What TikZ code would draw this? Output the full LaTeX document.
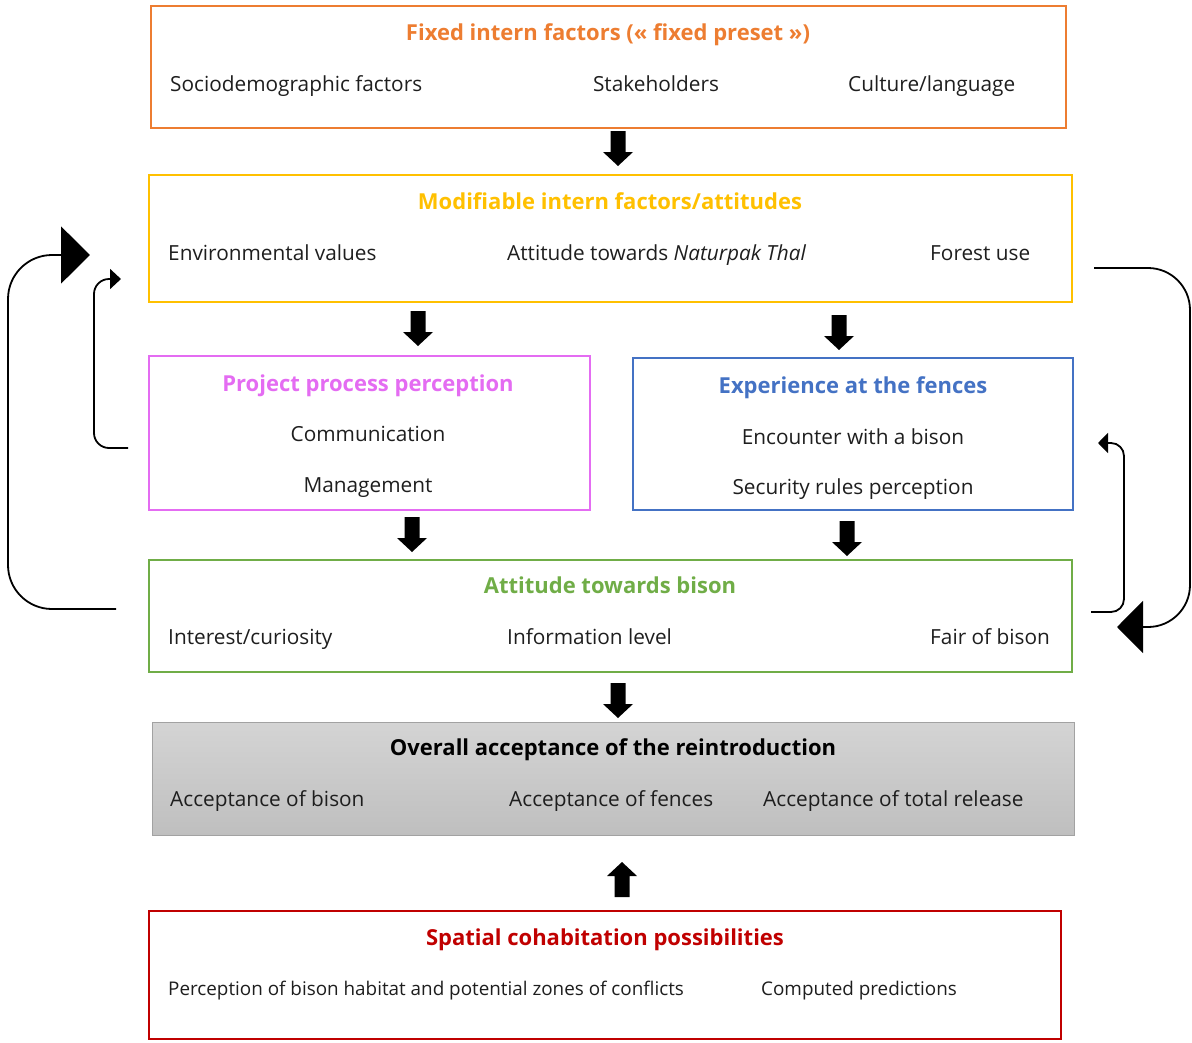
\documentclass[tikz,border=0pt]{standalone}
\usepackage{fontspec}
\setmainfont{Open Sans}
\usetikzlibrary{arrows.meta}

\definecolor{cOrange}{HTML}{ED7D31}
\definecolor{cYellow}{HTML}{FFC000}
\definecolor{cPink}{HTML}{E46CF2}
\definecolor{cBlue}{HTML}{4472C4}
\definecolor{cGreen}{HTML}{70AD47}
\definecolor{cRed}{HTML}{C00000}
\definecolor{cText}{HTML}{1E1E1E}
\definecolor{cGrayTop}{HTML}{D4D4D4}
\definecolor{cGrayBot}{HTML}{BFBFBF}

\tikzset{
  box/.style={rectangle, line width=1.8pt, inner sep=0pt},
  txt/.style={inner sep=0pt, text height=14.8pt, text depth=0pt,
    font=\fontsize{20.8}{24}\selectfont, text=cText},
  small/.style={txt, font=\fontsize{18.85}{22}\selectfont},
  ttl/.style={txt, font=\fontsize{22}{26}\selectfont\bfseries},
  loopline/.style={line width=1.8pt, rounded corners=#1},
  pics/blockdown/.style={code={
    \fill[black] (-7.5,0) -- (7.5,0) -- (7.5,21) -- (15,21) -- (0,35)
      -- (-15,21) -- (-7.5,21) -- cycle;}},
  pics/blockup/.style={code={
    \fill[black] (-7.5,35) -- (7.5,35) -- (7.5,14) -- (15,14) -- (0,0)
      -- (-15,14) -- (-7.5,14) -- cycle;}}
}

\begin{document}
\begin{tikzpicture}[x=1pt, y=-1pt]
\useasboundingbox (0,0) rectangle (1192,1042);

% frames
\node[box, draw=cOrange, minimum width=915pt, minimum height=122pt] (fixed) at (608.5,67) {};
\node[box, draw=cYellow, minimum width=923pt, minimum height=127pt] (modif) at (610.5,238.5) {};
\node[box, draw=cPink, minimum width=441pt, minimum height=154pt] (proc) at (369.5,433) {};
\node[box, draw=cBlue, minimum width=440pt, minimum height=152pt] (exper) at (853,434) {};
\node[box, draw=cGreen, minimum width=923pt, minimum height=112pt] (att) at (610.5,616) {};
\node[box, draw=cGrayBot!85!black, line width=0.8pt, top color=cGrayTop, bottom color=cGrayBot,
      minimum width=922pt, minimum height=113pt] (accept) at (613,778.5) {};
\node[box, draw=cRed, minimum width=912pt, minimum height=128pt] (spatial) at (605,975) {};

% fixed intern factors
\node[ttl, text=cOrange] (t1) at (608,33) {Fixed intern factors (« fixed preset »)};
\node[txt, anchor=west] (i11) at (170,84) {Sociodemographic factors};
\node[txt] (i12) at (656,84) {Stakeholders};
\node[txt, anchor=west] (i13) at (848,84) {Culture/language};

% modifiable factors
\node[ttl, text=cYellow] (t2) at (610,202) {Modifiable intern factors/attitudes};
\node[txt, anchor=west] (i21) at (168,253) {Environmental values};
\node[txt, anchor=west] (i22) at (507,253) {Attitude towards \textit{Naturpak Thal}};
\node[txt, anchor=west] (i23) at (930,253) {Forest use};

% project process
\node[ttl, text=cPink] (t3) at (368,384) {Project process perception};
\node[txt] (i31) at (368,434) {Communication};
\node[txt] (i32) at (368,485) {Management};

% experience at the fences
\node[ttl, text=cBlue] (t4) at (853,386) {Experience at the fences};
\node[txt] (i41) at (853,437) {Encounter with a bison};
\node[txt] (i42) at (853,487) {Security rules perception};

% attitude towards bison
\node[ttl, text=cGreen] (t5) at (610,586) {Attitude towards bison};
\node[txt, anchor=west] (i51) at (168,637) {Interest/curiosity};
\node[txt, anchor=west] (i52) at (507,637) {Information level};
\node[txt, anchor=west] (i53) at (930,637) {Fair of bison};

% overall acceptance
\node[ttl, text=black] (t6) at (613,748) {Overall acceptance of the reintroduction};
\node[txt, anchor=west] (i61) at (170,799) {Acceptance of bison};
\node[txt, anchor=west] (i62) at (509,799) {Acceptance of fences};
\node[txt, anchor=west] (i63) at (763,799) {Acceptance of total release};

% spatial cohabitation
\node[ttl, text=cRed] (t7) at (605,938) {Spatial cohabitation possibilities};
\node[small, anchor=west] (i71) at (168,988) {Perception of bison habitat and potential zones of conflicts};
\node[small, anchor=west] (i72) at (761,988) {Computed predictions};

% block arrows between the frames
\pic at (618,131) {blockdown};
\pic at (418,311) {blockdown};
\pic at (839,315) {blockdown};
\pic at (412,517) {blockdown};
\pic at (847,521) {blockdown};
\pic at (618,683) {blockdown};
\pic at (622,862) {blockup};

% feedback loops
\coordinate (lbS) at (116,609);
\coordinate (lbE) at (90,255);
\coordinate (lsS) at (128,448);
\coordinate (lsE) at (121,279);
\coordinate (rbS) at (1094,268);
\coordinate (rbE) at (1117,627);
\coordinate (rsS) at (1091,612);
\coordinate (rsE) at (1098,443);

\draw[loopline=44pt, -{Triangle[width=57pt,length=29pt]}]
  (lbS) -- (8,609) -- (8,255) -- (lbE);
\draw[loopline=15pt, -{Triangle[width=20pt,length=11pt]}]
  (lsS) -- (94,448) -- (94,279) -- (lsE);
\draw[loopline=42pt, -{Triangle[width=52pt,length=26pt]}]
  (rbS) -- (1190,268) -- (1190,627) -- (rbE);
\draw[loopline=13pt, -{Triangle[width=20pt,length=10pt]}]
  (rsS) -- (1124,612) -- (1124,443) -- (rsE);
\end{tikzpicture}
\end{document}
